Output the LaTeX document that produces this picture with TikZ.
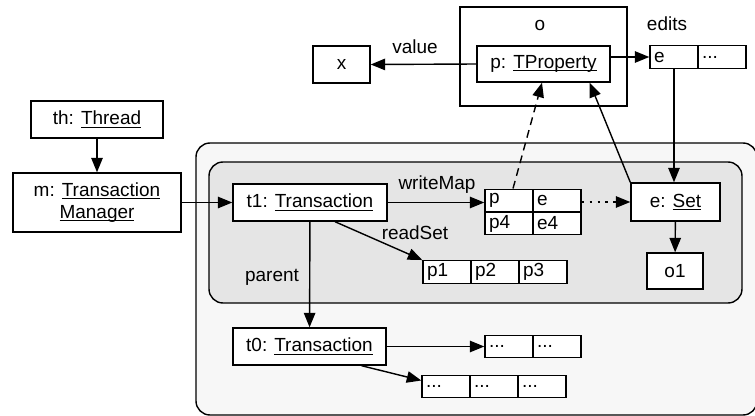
\documentclass[tikz,border=0pt]{standalone}
\usepackage{fontspec}
\setmainfont{Liberation Sans}
\usetikzlibrary{arrows.meta,calc}

\definecolor{outerbg}{gray}{0.97}
\definecolor{innerbg}{gray}{0.9}

\newcommand\undl[1]{\setbox0\hbox{#1}\rlap{\rule[-1.6pt]{\wd0}{0.5pt}}\box0}

\tikzset{
    txt/.style={font=\fontsize{10.8}{12.5}\selectfont},
    obj/.style={txt, draw, fill=white, inner sep=0pt, align=center},
    cell/.style={txt, draw, fill=white, inner sep=0pt, inner xsep=0.08cm,
        minimum height=0.45cm, text width=0.8cm, align=left},
    lbl/.style={txt, inner sep=0pt},
    ptr/.style={-{Triangle[length=0.29cm,width=0.23cm]}},
}

\begin{document}
\begin{tikzpicture}[x=0.02cm, y=-0.02cm, line width=0.8pt]
                    \useasboundingbox (0, 0) rectangle (755, 416);

                    \draw[fill=outerbg, rounded corners=0.28cm] (196, 143) rectangle (757, 415);
                    \draw[fill=innerbg, rounded corners=0.28cm] (209, 162) rectangle (742, 303);

                    \node[obj, minimum width=3.34cm, minimum height=1.98cm] (o) at (543.5, 56.5) {};
                    \node[lbl] (olbl) at (540, 25) {o};
                    \node[obj, minimum width=2.66cm, minimum height=0.72cm] (prop) at (543.5, 64) {p: \undl{TProperty}};
                    \node[obj, minimum width=1.14cm, minimum height=0.74cm] (x) at (341.5, 64.5) {x};
                    \node[lbl] (lvalue) at (415, 47) {value};

                    \node[lbl] (ledits) at (667, 24) {edits};
                    \node[cell] (ed1) at (674, 57) {e};
                    \node[cell] (ed2) at (722, 57) {...};

                    \node[obj, minimum width=2.64cm, minimum height=0.74cm] (th) at (97, 119.5) {th: \undl{Thread}};
                    \node[obj, minimum width=3.36cm, minimum height=1.18cm] (m) at (97, 202.5) {m: \undl{Transaction}\\\undl{Manager}};

                    \node[obj, minimum width=3.08cm, minimum height=0.74cm] (t1) at (310, 202.5) {t1: \undl{Transaction}};
                    \node[lbl] (lwrite) at (437, 185) {writeMap};
                    \node[cell] (wm1) at (509, 200.5) {p};
                    \node[cell] (wm2) at (557, 200.5) {e};
                    \node[cell] (wm3) at (509, 223.5) {p4};
                    \node[cell] (wm4) at (557, 223.5) {e4};
                    \node[lbl] (lread) at (415, 233) {readSet};
                    \node[cell] (rs1) at (447, 272) {p1};
                    \node[cell] (rs2) at (495, 272) {p2};
                    \node[cell] (rs3) at (543, 272) {p3};
                    \node[obj, minimum width=1.78cm, minimum height=0.76cm] (eset) at (675.5, 202) {e: \undl{Set}};
                    \node[obj, minimum width=1.12cm, minimum height=0.72cm] (o1) at (675, 271) {o1};
                    \node[lbl] (lparent) at (272, 277) {parent};

                    \node[obj, minimum width=3.06cm, minimum height=0.74cm] (t0) at (309.5, 346.5) {t0: \undl{Transaction}};
                    \node[cell] (b1a) at (509, 346.5) {...};
                    \node[cell] (b1b) at (557, 346.5) {...};
                    \node[cell] (b2a) at (446, 386.5) {...};
                    \node[cell] (b2b) at (494, 386.5) {...};
                    \node[cell] (b2c) at (542, 386.5) {...};

                    \draw[ptr] (prop.west) -- (x.east);
                    \draw[ptr] (prop.east |- ed1) -- (ed1.west);
                    \draw[ptr] (ed1.south) -- (ed1.south |- eset.north);
                    \draw[ptr] (th) -- (m);
                    \draw[ptr] (m.east) -- (m.east -| t1.west);
                    \draw[ptr] (t1.east) -- (t1.east -| wm1.west);
                    \draw[ptr, dash pattern=on 1.5pt off 3pt] (wm2.east |- eset.west) -- (eset.west);
                    \draw[ptr, dash pattern=on 4.5pt off 3pt] ($(wm1.north)+(4, 0)$) -- ($(prop.south)+(-1.5, 0)$);
                    \draw[ptr] (eset.north west) -- ($(prop.south east)+(-21, 0)$);
                    \draw[ptr] (eset) -- (o1);
                    \draw[ptr] ($(t1.south)+(25, 0)$) -- (rs1.north west);
                    \draw[ptr] (t1) -- (t0);
                    \draw[ptr] (t0.east) -- (t0.east -| b1a.west);
                    \draw[ptr] ($(t0.south)+(52, 0)$) -- ($(b2a.west)+(0, -6)$);
                \end{tikzpicture}
\end{document}
